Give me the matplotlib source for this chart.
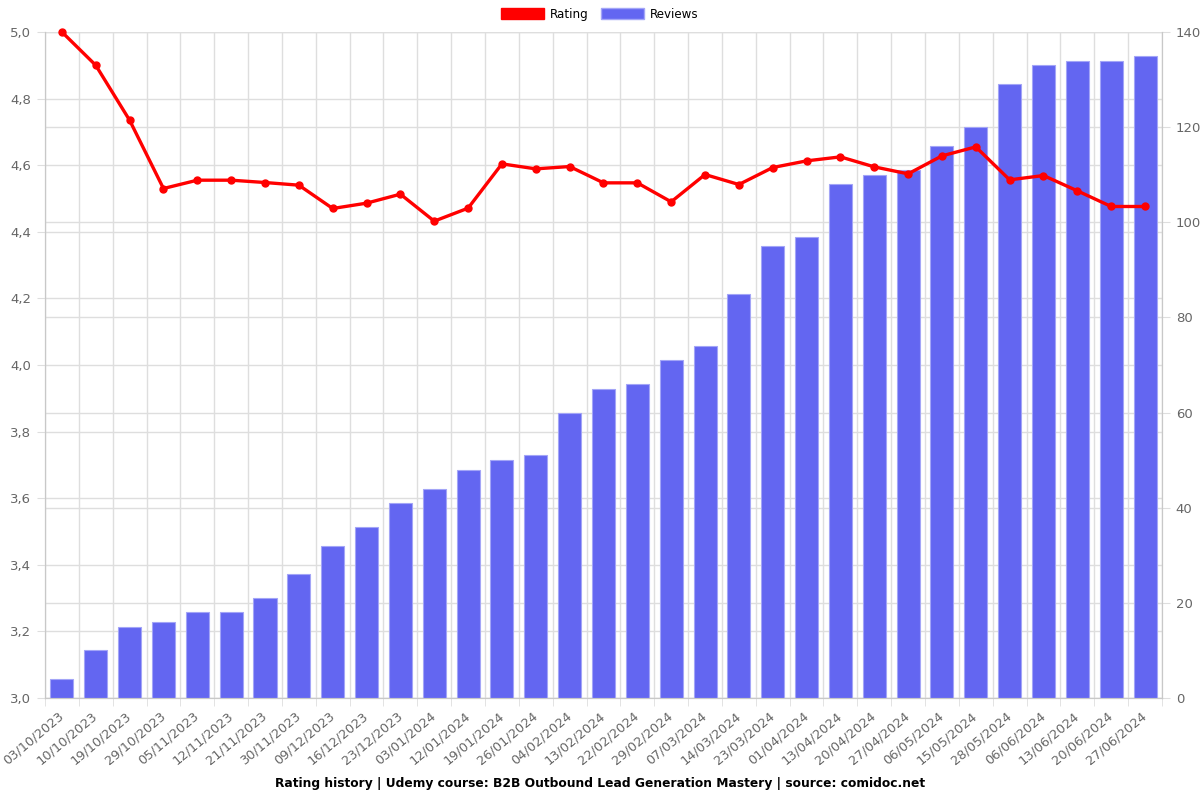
import matplotlib.pyplot as plt
import matplotlib.ticker as mticker
import matplotlib.transforms as mtransforms
from matplotlib.patches import Patch
import numpy as np

# dados
datas = ["03/10/2023", "10/10/2023", "19/10/2023", "29/10/2023", "05/11/2023",
         "12/11/2023", "21/11/2023", "30/11/2023", "09/12/2023", "16/12/2023",
         "23/12/2023", "03/01/2024", "12/01/2024", "19/01/2024", "26/01/2024",
         "04/02/2024", "13/02/2024", "22/02/2024", "29/02/2024", "07/03/2024",
         "14/03/2024", "23/03/2024", "01/04/2024", "13/04/2024", "20/04/2024",
         "27/04/2024", "06/05/2024", "15/05/2024", "28/05/2024", "06/06/2024",
         "13/06/2024", "20/06/2024", "27/06/2024"]
reviews = [4, 10, 15, 16, 18, 18, 21, 26, 32, 36, 41, 44, 48, 50, 51, 60, 65, 66,
           71, 74, 85, 95, 97, 108, 110, 111, 116, 120, 129, 133, 134, 134, 135]
rating = [5.0, 4.90, 4.735, 4.53, 4.555, 4.555, 4.548, 4.54, 4.47, 4.486, 4.513,
          4.432, 4.471, 4.604, 4.589, 4.596, 4.547, 4.547, 4.49, 4.572, 4.542,
          4.593, 4.613, 4.625, 4.595, 4.574, 4.628, 4.655, 4.556, 4.569, 4.523,
          4.476, 4.476]

rating_ticks = [3.0, 3.2, 3.4, 3.6, 3.8, 4.0, 4.2, 4.4, 4.6, 4.8, 5.0]
review_ticks = [0, 20, 40, 60, 80, 100, 120, 140]

cor_barra = "#6366f1"
cor_grade = "#dedede"
cor_eixo = "#c8c8c8"
cor_texto = "#666666"

fig = plt.figure(figsize=(12, 8), dpi=100)
ax_bar = fig.add_subplot(111)
ax_lin = ax_bar.twinx()
fig.subplots_adjust(left=0.0375, right=0.9683, top=0.96, bottom=0.1275)

x = np.arange(len(datas))

# barras (eixo da direita)
ax_bar.bar(x, reviews, width=0.68, color=cor_barra, edgecolor="#a3a5f7",
           linewidth=0.8, zorder=3)
ax_bar.set_ylim(0, 140)
ax_bar.set_xlim(-0.5, len(datas) - 0.5)
ax_bar.yaxis.tick_right()
ax_bar.set_yticks(review_ticks)

# grade
ax_bar.set_axisbelow(True)
ax_bar.grid(axis="y", color=cor_grade, linewidth=1, zorder=0)
for t in rating_ticks:
    ax_bar.axhline((t - 3.0) / 2.0 * 140, color=cor_grade, linewidth=1, zorder=0)
ax_bar.set_xticks(x)
ax_bar.set_xticklabels(datas, rotation=40, ha="right", va="center",
                       rotation_mode="anchor")
desloc = mtransforms.ScaledTranslation(5 / 100, 0, fig.dpi_scale_trans)
for lab in ax_bar.get_xticklabels():
    lab.set_transform(lab.get_transform() + desloc)
ax_bar.set_xticks(np.arange(-0.5, len(datas)), minor=True)
ax_bar.grid(axis="x", which="minor", color=cor_grade, linewidth=1, zorder=0)
ax_bar.tick_params(axis="x", which="major", length=0, pad=12, labelsize=9.3,
                   labelcolor=cor_texto)
ax_bar.tick_params(axis="x", which="minor", length=6, color=cor_grade)
ax_bar.tick_params(axis="y", length=6, color=cor_grade, labelsize=9.5,
                   labelcolor=cor_texto, pad=4)

# linha de rating (eixo da esquerda)
ax_lin.plot(x, rating, color="#ff0000", linewidth=2.4, marker="o",
            markersize=5, zorder=4, clip_on=False)
ax_lin.set_ylim(3.0, 5.0)
ax_lin.yaxis.tick_left()
ax_lin.set_yticks(rating_ticks)
ax_lin.yaxis.set_major_formatter(
    mticker.FuncFormatter(lambda v, p: f"{v:.1f}".replace(".", ",")))
ax_lin.tick_params(axis="y", length=6, color=cor_grade, labelsize=9.5,
                   labelcolor=cor_texto, pad=4)

for a in (ax_bar, ax_lin):
    for s in a.spines.values():
        s.set_color(cor_eixo)
    a.spines["top"].set_visible(False)

# legenda
handles = [Patch(facecolor="#ff0000", edgecolor="#ff0000", label="Rating"),
           Patch(facecolor=cor_barra, edgecolor="#a3a5f7", label="Reviews")]
fig.legend(handles=handles, loc="upper center", bbox_to_anchor=(0.5, 1.004),
           ncol=2, frameon=False, fontsize=8.6, handlelength=3.6,
           handleheight=1.1, columnspacing=1.0, handletextpad=0.5)

fig.text(0.5, 1 - 783 / 800,
         "Rating history | Udemy course: B2B Outbound Lead Generation Mastery | source: comidoc.net",
         ha="center", va="center", fontsize=8.8, fontweight="bold")

plt.savefig("out.png", dpi=100)
